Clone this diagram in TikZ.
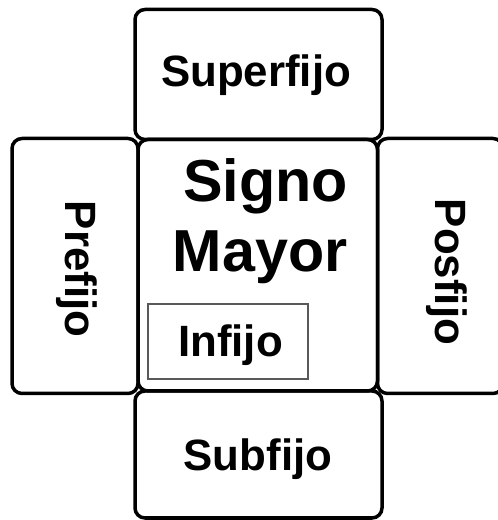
\documentclass[tikz,border=0pt]{standalone}
\usepackage{fontspec}
\setmainfont{Liberation Sans}
\begin{document}
\begin{tikzpicture}[x=1bp,y=1bp,
  part/.style={draw=black,line width=3.5bp,rounded corners=10bp},
  lbl/.style={font=\bfseries\fontsize{44}{50}\selectfont,inner sep=0pt,anchor=base},
  big/.style={font=\bfseries\fontsize{59.5}{68}\selectfont,inner sep=0pt,anchor=base},
  inbox/.style={draw=black!65,line width=1.5bp}]
\useasboundingbox (0,0) rectangle (498,520);
\begin{scope}
\clip (0,0) rectangle (498,520);
\draw[part] (135,510.5) rectangle (382,380.5);
\draw[part] (12,381.5) rectangle (138,126.5);
\draw[part] (138,380.5) rectangle (377.5,129);
\draw[part] (377.5,381.5) rectangle (503,126.5);
\draw[part] (135,129) rectangle (382,2);
\draw[inbox] (148,216) rectangle (308,141);
\end{scope}
\node[lbl] (sup) at (256,433) {Superfijo};
\node[big] (signo) at (265.5,318) {Signo};
\node[big] (mayor) at (260,248) {Mayor};
\node[lbl] (inf) at (230.5,163) {Infijo};
\node[lbl] (sub) at (258,49.5) {Subfijo};
\node[lbl,rotate=-90] (pre) at (65.5,251) {Prefijo};
\node[lbl,rotate=-90] (pos) at (435,248) {Posfijo};
\end{tikzpicture}
\end{document}
